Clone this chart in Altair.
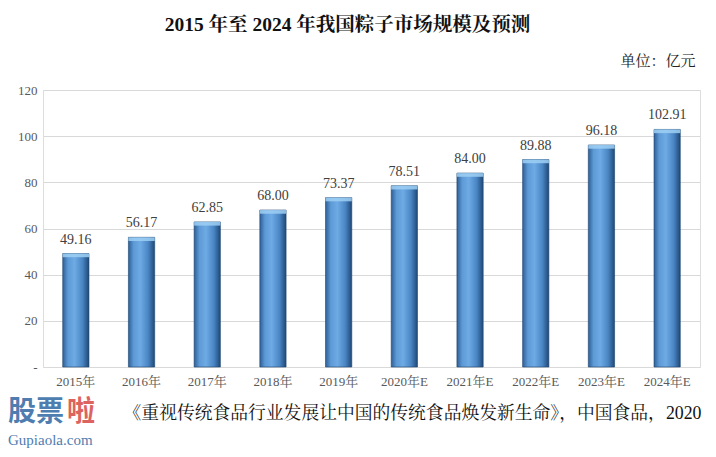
import altair as alt
import pandas as pd

years = ["2015年", "2016年", "2017年", "2018年", "2019年",
         "2020年E", "2021年E", "2022年E", "2023年E", "2024年E"]
values = [49.16, 56.17, 62.85, 68.00, 73.37, 78.51, 84.00, 89.88, 96.18, 102.91]
labels = ["49.16", "56.17", "62.85", "68.00", "73.37",
          "78.51", "84.00", "89.88", "96.18", "102.91"]

title_text = "2015 年至 2024 年我国粽子市场规模及预测"
unit_text = "单位：亿元"
source_text = "《重视传统食品行业发展让中国的传统食品焕发新生命》，中国食品，2020"
logo_main = ["股票"]
logo_red = ["啦"]
logo_url = ["Gupiaola.com"]

FONT = "Liberation Serif, Noto Serif CJK SC, Noto Sans CJK SC"

df = pd.DataFrame({"year": years, "value": values, "label": labels})

x_enc = alt.X("year:N", sort=years,
              scale=alt.Scale(paddingInner=0.6, paddingOuter=0.3),
              axis=alt.Axis(title=source_text, labelAngle=0, labelFont=FONT,
                            labelFontSize=13, labelColor="#595959", labelPadding=8,
                            ticks=False, domain=False,
                            titleFont=FONT, titleFontSize=17.8, titleFontWeight="normal",
                            titleColor="#111111", titleX=369, titleY=46,
                            titleAlign="center", titleBaseline="middle"))

y_scale = alt.Scale(domain=[0, 120])

grad = alt.Gradient(
    gradient="linear",
    stops=[alt.GradientStop(color="#2f5f97", offset=0),
           alt.GradientStop(color="#5d9ad6", offset=0.2),
           alt.GradientStop(color="#6eaae4", offset=0.45),
           alt.GradientStop(color="#4a86c4", offset=0.75),
           alt.GradientStop(color="#1f4877", offset=1)],
    x1=0, x2=1, y1=0, y2=0)

bars = alt.Chart(df).mark_bar(color=grad, stroke="#1f4470", strokeWidth=0.6).encode(
    x=x_enc,
    y=alt.Y("value:Q", scale=y_scale,
            axis=alt.Axis(title=unit_text, values=[0, 20, 40, 60, 80, 100, 120],
                          labelExpr="datum.value == 0 ? '-' : datum.label",
                          labelFont=FONT, labelFontSize=13, labelColor="#595959",
                          labelPadding=6, ticks=False, domain=False,
                          gridColor="#d9d9d9", gridWidth=1,
                          titleAngle=0, titleFont=FONT, titleFontSize=15,
                          titleFontWeight="normal", titleColor="#222222",
                          titleX=652, titleY=-30, titleAlign="right",
                          titleBaseline="middle")),
)

cap = alt.Chart(df).transform_calculate(
    top2="datum.value - 1.6"
).mark_bar(color="#9fd0f5", opacity=0.85).encode(
    x=alt.X("year:N", sort=years),
    y=alt.Y("value:Q", scale=y_scale),
    y2="top2:Q",
)

text = alt.Chart(df).mark_text(dy=-14, font=FONT, fontSize=14, color="#404040").encode(
    x=alt.X("year:N", sort=years),
    y=alt.Y("value:Q", scale=y_scale),
    text="label:N",
)

logo1 = alt.Chart(pd.DataFrame({"t": logo_main})).mark_text(
    font="Noto Sans CJK SC", fontSize=28, fontWeight="bold", color="#3b6fa8",
    align="left", baseline="middle", opacity=0.9
).encode(text="t:N", x=alt.value(-35), y=alt.value(323))
logo2 = alt.Chart(pd.DataFrame({"t": logo_red})).mark_text(
    font="Noto Sans CJK SC", fontSize=28, fontWeight="bold", color="#d9534f",
    align="left", baseline="middle", opacity=0.9
).encode(text="t:N", x=alt.value(24), y=alt.value(323))
logo3 = alt.Chart(pd.DataFrame({"t": logo_url})).mark_text(
    font="Liberation Serif", fontSize=15, color="#3b6fa8",
    align="left", baseline="middle", opacity=0.9
).encode(text="t:N", x=alt.value(-35), y=alt.value(350))

chart = alt.layer(bars, cap, text, logo1, logo2, logo3).properties(
    width=657, height=277,
    autosize=alt.AutoSizeParams(type="none"),
    padding={"left": 35, "top": 82, "right": 8, "bottom": 82},
    title=alt.TitleParams(title_text, font=FONT, fontSize=19.5, fontWeight="bold",
                          color="#111111", anchor="middle", dx=-24, offset=18),
).configure_view(stroke=None).configure(background="white")

chart.save("out.html", embed_options={"renderer": "svg", "actions": False})
